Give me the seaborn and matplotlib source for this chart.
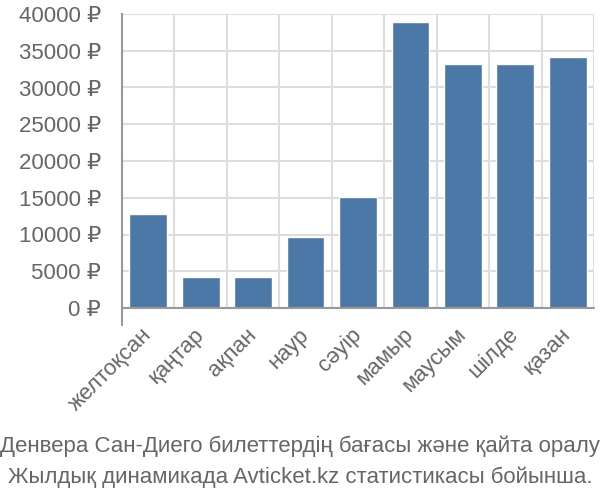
import matplotlib
matplotlib.use("Agg")
import matplotlib.pyplot as plt
import seaborn as sns
import pandas as pd
import numpy as np

months = ["желтоқсан", "қаңтар", "ақпан", "наур", "сәуір", "мамыр", "маусым", "шілде", "қазан"]
prices = [12800, 4200, 4200, 9700, 15100, 38900, 33200, 33200, 34100]
yticks = [0, 5000, 10000, 15000, 20000, 25000, 30000, 35000, 40000]
caption1 = "Денвера Сан-Диего билеттердің бағасы және қайта оралу"
caption2 = "Жылдық динамикада Avticket.kz статистикасы бойынша."

sns.set_style("white")
plt.rcParams['font.family'] = ['Liberation Sans', 'DejaVu Sans']

df = pd.DataFrame({"month": months, "price": prices})

fig = plt.figure(figsize=(6, 5), dpi=100)
ax = fig.add_axes([122/600, 1-308/500, (594-122)/600, (308-14)/500])

sns.barplot(data=df, x="month", y="price", color="#4c78a8", width=0.72,
            saturation=1, ax=ax, zorder=3)

ax.set_xlim(-0.5, len(months) - 0.5)
ax.set_ylim(0, 40000)
ax.set_yticks(yticks)
ax.set_yticklabels([f"{v} ₽" for v in yticks], fontsize=16, color="#666666")
ax.tick_params(axis="y", length=14, width=1.2, color="#dddddd", pad=1)

ax.set_xticks(range(len(months)))
ax.set_xticklabels(months, rotation=45, ha="right", va="center",
                   rotation_mode="anchor", fontsize=16, color="#666666")
ax.tick_params(axis="x", which="major", length=0, pad=17)
ax.set_xticks(np.arange(-0.5, len(months), 1), minor=True)
ax.tick_params(axis="x", which="minor", length=12, width=1.5, color="#dddddd")

ax.grid(True, axis="y", color="#dddddd", linewidth=1.5, zorder=0)
ax.grid(True, axis="x", which="minor", color="#dddddd", linewidth=1.5, zorder=0)
ax.set_axisbelow(True)

for s in ["top", "right", "bottom"]:
    ax.spines[s].set_visible(False)
ax.spines["left"].set_color("#999999")
ax.spines["left"].set_linewidth(1.5)
ax.spines["left"].set_bounds(-2300, 40000)
ax.axhline(0, color="#999999", linewidth=1.5, zorder=4, clip_on=False)

ax.set_xlabel("")
ax.set_ylabel("")

fig.text(0.5, 1-446/500, caption1, ha="center", va="center", fontsize=16, color="#666666")
fig.text(0.5, 1-477/500, caption2, ha="center", va="center", fontsize=16, color="#666666")

fig.savefig("out.png", dpi=100)
